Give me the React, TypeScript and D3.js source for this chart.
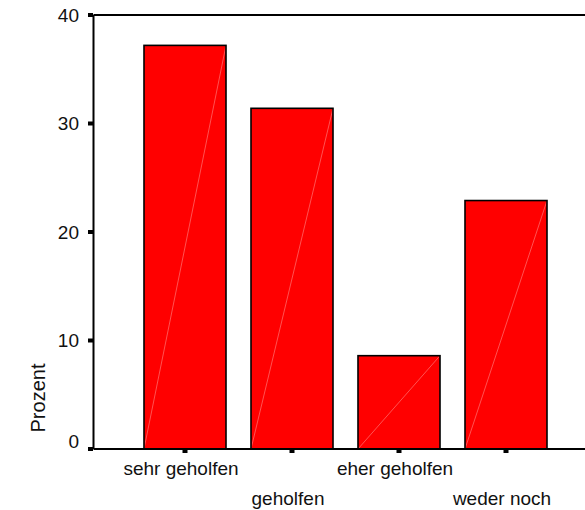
import React from "react";
import * as d3 from "d3";

const categories = ["sehr geholfen", "geholfen", "eher geholfen", "weder noch"];
const values = [37.2, 31.4, 8.6, 22.9];
const yTicks = [0, 10, 20, 30, 40];
const yLabel = "Prozent";

const W = 585;
const H = 510;
const plotLeft = 93.5;
const plotRight = 598;
const plotTop = 15;
const plotBottom = 449;
const FONT = "'Liberation Sans', Arial, sans-serif";

export default function App() {
  const y = d3.scaleLinear().domain([0, 40]).range([plotBottom, plotTop]);
  const x = d3
    .scaleBand<string>()
    .domain(categories)
    .range([131.5, 559.5])
    .paddingInner(0.2336)
    .paddingOuter(0.1168);
  const bw = x.bandwidth();

  return (
    <svg
      width={W}
      height={H}
      style={{ position: "absolute", left: 0, top: 0, background: "#fff" }}
    >
      {/* bars */}
      {categories.map((c, i) => {
        const x0 = x(c)!;
        const y0 = y(values[i]);
        return (
          <g key={c}>
            <rect x={x0} y={y0} width={bw} height={plotBottom - y0} fill="#ff0000" />
            <line
              x1={x0}
              y1={plotBottom}
              x2={x0 + bw}
              y2={y0}
              stroke="#ff8a8a"
              strokeWidth={0.6}
            />
            <rect
              x={x0}
              y={y0}
              width={bw}
              height={plotBottom - y0}
              fill="none"
              stroke="#000"
              strokeWidth={1.6}
            />
          </g>
        );
      })}
      {/* frame */}
      <line x1={plotLeft} y1={plotTop} x2={plotLeft} y2={plotBottom} stroke="#000" strokeWidth={2} />
      <line x1={plotLeft} y1={plotTop} x2={plotRight} y2={plotTop} stroke="#000" strokeWidth={1.8} />
      <line x1={plotLeft} y1={plotBottom} x2={plotRight} y2={plotBottom} stroke="#000" strokeWidth={1.8} />
      {/* y ticks */}
      {yTicks.map((t) => (
        <g key={t}>
          <rect x={plotLeft - 5.5} y={y(t) - 2} width={5} height={4} fill="#000" />
          <text
            x={79}
            y={t === 0 ? y(t) - 1 : y(t)}
            dy={t === 0 ? "0" : "0.36em"}
            textAnchor="end"
            fontFamily={FONT}
            fontSize={19}
            fill="#111"
          >
            {t}
          </text>
        </g>
      ))}
      {/* x ticks and labels */}
      {categories.map((c, i) => {
        const cx = x(c)! + bw / 2;
        return (
          <g key={c}>
            <rect x={cx - 2.5} y={plotBottom} width={5} height={4} fill="#000" />
            <text
              x={cx - 4}
              y={i % 2 === 0 ? 475 : 505}
              textAnchor="middle"
              fontFamily={FONT}
              fontSize={19}
              fill="#111"
            >
              {c}
            </text>
          </g>
        );
      })}
      {/* y axis label */}
      <text
        transform={`translate(45, 398) rotate(-90)`}
        textAnchor="middle"
        fontFamily={FONT}
        fontSize={20}
        fill="#111"
      >
        {yLabel}
      </text>
    </svg>
  );
}
